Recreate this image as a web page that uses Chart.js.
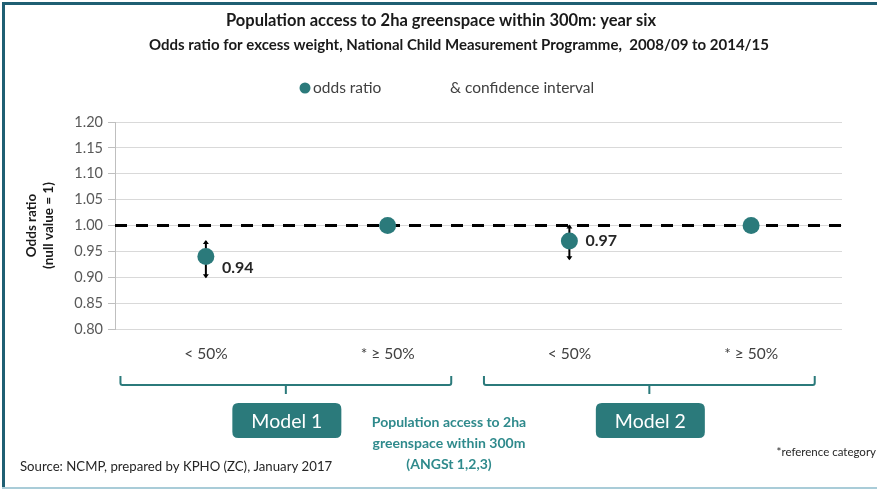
<!DOCTYPE html>
<html>
<head>
<meta charset="utf-8">
<script src="https://cdn.jsdelivr.net/npm/chart.js@4"></script>
<style>
  html, body { margin: 0; padding: 0; background: #fff; }
  #wrap { position: relative; width: 879px; height: 490px; }
</style>
</head>
<body>
<div id="wrap"><canvas id="c" width="879" height="490"></canvas></div>
<script>
// Categories of greenspace access, two per model
const categories = ['< 50%', '* \u2265 50%', '< 50%', '* \u2265 50%'];
// Odds ratios and their 95% confidence limits (reference categories have none)
const oddsRatios = [0.94, 1.00, 0.97, 1.00];
const ciLower = [0.90, null, 0.935, null];
const ciUpper = [0.97, null, 1.00, null];
// Which points carry a value label
const showValueLabel = [true, false, true, false];
// Y axis range and step
const yMin = 0.80, yMax = 1.20, yStep = 0.05;
const nullValue = 1.00;
// Model groups: first and last category index of each
const models = [
  { name: 'Model 1', from: 0, to: 1 },
  { name: 'Model 2', from: 2, to: 3 }
];

const TEAL = '#2b7a7b';
const FONT = 'Lato, "Open Sans", sans-serif';

const decorations = {
  id: 'decorations',
  beforeDraw(chart) {
    const ctx = chart.ctx;
    ctx.save();
    ctx.fillStyle = '#ffffff';
    ctx.fillRect(0, 0, chart.width, chart.height);
    ctx.restore();
  },
  beforeDatasetsDraw(chart) {
    const ctx = chart.ctx;
    const ys = chart.scales.y, xs = chart.scales.x;
    const area = chart.chartArea;
    // dashed null-value line
    const y1 = ys.getPixelForValue(nullValue);
    ctx.save();
    ctx.strokeStyle = '#000';
    ctx.lineWidth = 3;
    ctx.setLineDash([12, 9]);
    ctx.beginPath();
    ctx.moveTo(area.left, y1);
    ctx.lineTo(area.right, y1);
    ctx.stroke();
    ctx.restore();

    // confidence intervals
    ctx.save();
    ctx.strokeStyle = '#000';
    ctx.fillStyle = '#000';
    ctx.lineWidth = 2;
    oddsRatios.forEach((v, i) => {
      if (ciLower[i] == null || ciUpper[i] == null) return;
      const x = xs.getPixelForValue(i);
      const yl = ys.getPixelForValue(ciLower[i]);
      const yu = ys.getPixelForValue(ciUpper[i]);
      ctx.beginPath();
      ctx.moveTo(x, yu);
      ctx.lineTo(x, yl);
      ctx.stroke();
      // small arrow-heads at both limits
      [[yu, -1], [yl, 1]].forEach(([yy, dir]) => {
        ctx.beginPath();
        ctx.moveTo(x - 3, yy - dir * 3);
        ctx.lineTo(x + 3, yy - dir * 3);
        ctx.lineTo(x, yy + dir * 1);
        ctx.closePath();
        ctx.fill();
      });
    });
    ctx.restore();
  },
  afterDraw(chart) {
    const ctx = chart.ctx;
    const xs = chart.scales.x, ys = chart.scales.y;
    const W = chart.width, H = chart.height;
    ctx.save();

    // frame
    ctx.fillStyle = '#1f5f73';
    ctx.fillRect(2, 2, 3, H - 4);
    ctx.fillRect(2, 2, W - 4, 3);
    ctx.fillStyle = '#a9ccd8';
    ctx.fillRect(2, H - 3, W - 4, 2);

    // titles
    ctx.fillStyle = '#1a1a1a';
    ctx.textAlign = 'center';
    ctx.textBaseline = 'middle';
    ctx.font = 'bold 16.5px ' + FONT;
    ctx.fillText('Population access to 2ha greenspace within 300m: year six', 441, 21);
    ctx.font = 'bold 15px ' + FONT;
    ctx.fillText('Odds ratio for excess weight, National Child Measurement Programme,  2008/09 to 2014/15', 459, 45);

    // legend
    ctx.fillStyle = TEAL;
    ctx.beginPath();
    ctx.arc(305, 88, 5.5, 0, Math.PI * 2);
    ctx.fill();
    ctx.fillStyle = '#404040';
    ctx.textAlign = 'left';
    ctx.font = '15.5px ' + FONT;
    ctx.fillText('odds ratio', 313, 88);
    ctx.fillText('& confidence interval', 450, 88);

    // value labels
    ctx.fillStyle = '#262626';
    ctx.font = 'bold 16px ' + FONT;
    const labelDy = [11, 0, 0, 0];
    oddsRatios.forEach((v, i) => {
      if (!showValueLabel[i]) return;
      const x = xs.getPixelForValue(i);
      const y = ys.getPixelForValue(v);
      ctx.fillText(v.toFixed(2), x + 16, y + labelDy[i]);
    });

    // model brackets and boxes
    const w = xs.getPixelForValue(1) - xs.getPixelForValue(0);
    models.forEach((m) => {
      const x0 = xs.getPixelForValue(m.from) - 0.47 * w;
      const x1 = xs.getPixelForValue(m.to) + 0.35 * w;
      const xm = (x0 + x1) / 2;
      const yb = 385;
      ctx.strokeStyle = TEAL;
      ctx.lineWidth = 2;
      ctx.beginPath();
      ctx.moveTo(x0, 376);
      ctx.lineTo(x0, yb - 2);
      ctx.quadraticCurveTo(x0, yb, x0 + 2, yb);
      ctx.lineTo(x1 - 2, yb);
      ctx.quadraticCurveTo(x1, yb, x1, yb - 2);
      ctx.lineTo(x1, 376);
      ctx.moveTo(xm, yb);
      ctx.lineTo(xm, 394);
      ctx.stroke();

      // rounded box
      const bw = 109, bh = 35, bx = xm - bw / 2 + 1, by = 403, r = 6;
      ctx.fillStyle = TEAL;
      ctx.beginPath();
      ctx.moveTo(bx + r, by);
      ctx.lineTo(bx + bw - r, by);
      ctx.quadraticCurveTo(bx + bw, by, bx + bw, by + r);
      ctx.lineTo(bx + bw, by + bh - r);
      ctx.quadraticCurveTo(bx + bw, by + bh, bx + bw - r, by + bh);
      ctx.lineTo(bx + r, by + bh);
      ctx.quadraticCurveTo(bx, by + bh, bx, by + bh - r);
      ctx.lineTo(bx, by + r);
      ctx.quadraticCurveTo(bx, by, bx + r, by);
      ctx.fill();
      ctx.fillStyle = '#ffffff';
      ctx.textAlign = 'center';
      ctx.font = '19.5px ' + FONT;
      ctx.fillText(m.name, bx + bw / 2, by + bh / 2 + 1);
    });

    // axis grouping label
    ctx.fillStyle = '#2f8a8c';
    ctx.textAlign = 'center';
    ctx.font = 'bold 14px ' + FONT;
    ctx.fillText('Population access to 2ha', 449, 422);
    ctx.fillText('greenspace within 300m', 449, 443);
    ctx.fillText('(ANGSt 1,2,3)', 449, 464);

    // notes
    ctx.fillStyle = '#262626';
    ctx.font = '13.2px ' + FONT;
    ctx.textAlign = 'left';
    ctx.fillText('Source: NCMP, prepared by KPHO (ZC), January 2017', 20, 467);
    ctx.font = '11.5px ' + FONT;
    ctx.textAlign = 'right';
    ctx.fillText('*reference category', 876, 452);

    ctx.restore();
  }
};

new Chart(document.getElementById('c'), {
  type: 'line',
  data: {
    labels: categories,
    datasets: [{
      label: 'odds ratio',
      data: oddsRatios,
      showLine: false,
      pointRadius: 8.5,
      pointHoverRadius: 8.5,
      pointBackgroundColor: TEAL,
      pointBorderColor: TEAL,
      pointBorderWidth: 0
    }]
  },
  options: {
    responsive: false,
    animation: false,
    events: [],
    layout: { padding: { left: 8, right: 37, top: 122, bottom: 121 } },
    plugins: {
      legend: { display: false },
      title: { display: false },
      tooltip: { enabled: false }
    },
    scales: {
      x: {
        type: 'category',
        offset: true,
        grid: { display: false },
        border: { display: false },
        ticks: {
          color: '#404040',
          font: { family: FONT, size: 15.5 },
          padding: 8,
          maxRotation: 0
        },
        afterFit(scale) { scale.height = 40; }
      },
      y: {
        min: yMin,
        max: yMax,
        grid: { color: '#d9d9d9', lineWidth: 1, tickLength: 7, tickColor: '#bfbfbf' },
        border: { display: true, color: '#bfbfbf' },
        ticks: {
          stepSize: yStep,
          color: '#595959',
          font: { family: FONT, size: 14.5 },
          padding: 5,
          callback: (v) => Number(v).toFixed(2)
        },
        title: {
          display: true,
          text: ['Odds ratio', '(null value = 1)'],
          color: '#1a1a1a',
          font: { family: FONT, size: 13.5, weight: 'bold' },
          padding: { top: 16, bottom: 0 }
        },
        afterFit(scale) { scale.width = 107; }
      }
    }
  },
  plugins: [decorations]
});
</script>
</body>
</html>
